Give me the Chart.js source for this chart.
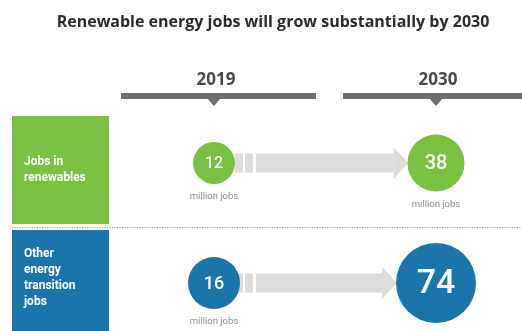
<!DOCTYPE html>
<html lang="en">
<head>
<meta charset="utf-8">
<title>Renewable energy jobs</title>
<script src="https://cdn.jsdelivr.net/npm/chart.js@4.4.0/dist/chart.umd.min.js"></script>
<style>
  html, body { margin: 0; padding: 0; background: #fff; }
  #graficoEmpregos { display: block; }
</style>
</head>
<body>
<canvas id="graficoEmpregos" width="522" height="331"></canvas>
<script>
// Dados do infográfico
const titulo = 'Renewable energy jobs will grow substantially by 2030';
const anos = ['2019', '2030'];
const categorias = ['Jobs in renewables', 'Other energy transition jobs'];
const empregosRenovaveis = [12, 38];
const empregosTransicao = [16, 74];
const unidade = 'million jobs';

// Estilo de cada linha (renováveis, outros)
const coresLinha = ['#7ac143', '#1b75aa'];
const raiosCirculo = [[21, 28.5], [26, 40]];
const fontesValor = [[16, 20], [18, 34]];
const faixasCaixa = [[116, 224], [230, 345]];
const centroTextoCaixa = [169, 277];

let graficoEmpregos = null;

// Quebra o texto em linhas que cabem na largura
function quebrarTexto(ctx, texto, largura) {
    const palavras = texto.split(' ');
    const linhas = [];
    let atual = '';
    palavras.forEach(p => {
        const teste = atual ? atual + ' ' + p : p;
        if (atual && ctx.measureText(teste).width > largura) {
            linhas.push(atual);
            atual = p;
        } else {
            atual = teste;
        }
    });
    if (atual) linhas.push(atual);
    return linhas;
}

// Desenha título, anos, caixas das categorias e setas
const pluginInfografico = {
    id: 'infografico',
    beforeDatasetsDraw(chart) {
        const ctx = chart.ctx;
        const xs = chart.scales.x;
        ctx.save();

        ctx.textAlign = 'center';
        ctx.textBaseline = 'alphabetic';
        ctx.fillStyle = '#2b2b2b';
        ctx.font = '700 16px "Open Sans"';
        ctx.fillText(titulo, 273, 27);

        // Anos com a barra e o triângulo
        anos.forEach((ano, i) => {
            const x = xs.getPixelForValue(i);
            ctx.fillStyle = '#4a4a4a';
            ctx.font = '700 17px "Open Sans"';
            ctx.fillText(ano, x + 2, 85);
            ctx.fillStyle = '#6e6e6e';
            ctx.fillRect(x - 93, 93, 195, 6);
            ctx.beginPath();
            ctx.moveTo(x - 7, 98);
            ctx.lineTo(x + 7, 98);
            ctx.lineTo(x, 106);
            ctx.closePath();
            ctx.fill();
        });

        // Caixas coloridas com o nome da categoria
        categorias.forEach((cat, linha) => {
            const [topo, base] = faixasCaixa[linha];
            ctx.fillStyle = coresLinha[linha];
            ctx.fillRect(12, topo, 97, base - topo);
            ctx.fillStyle = '#ffffff';
            ctx.font = '700 12px Roboto';
            ctx.textAlign = 'left';
            const linhas = quebrarTexto(ctx, cat, 66);
            const alturaLinha = 16;
            const y0 = centroTextoCaixa[linha] - (linhas.length - 1) * alturaLinha / 2 + 4;
            linhas.forEach((t, k) => ctx.fillText(t, 24, y0 + k * alturaLinha));
        });

        // Linha pontilhada entre as categorias
        ctx.strokeStyle = '#9a9a9a';
        ctx.lineWidth = 1;
        ctx.setLineDash([1, 1.5]);
        ctx.beginPath();
        ctx.moveTo(12, 227.5);
        ctx.lineTo(522, 227.5);
        ctx.stroke();
        ctx.setLineDash([]);

        // Setas cinzas ligando 2019 a 2030
        chart.data.datasets.forEach((ds, linha) => {
            const pts = chart.getDatasetMeta(linha).data;
            const a = pts[0], b = pts[1];
            const y = (a.y + b.y) / 2;
            const ponta = b.x - raiosCirculo[linha][1] + 1;
            ctx.fillStyle = '#dcdcdc';
            ctx.fillRect(a.x + 21, y - 9.5, 8, 19);
            ctx.fillRect(a.x + 31, y - 9.5, 8, 19);
            ctx.fillRect(a.x + 42, y - 9.5, ponta - 15 - (a.x + 42), 19);
            ctx.beginPath();
            ctx.moveTo(ponta - 15, y - 16);
            ctx.lineTo(ponta, y);
            ctx.lineTo(ponta - 15, y + 16);
            ctx.closePath();
            ctx.fill();
        });
        ctx.restore();
    },
    afterDatasetsDraw(chart) {
        const ctx = chart.ctx;
        ctx.save();
        ctx.textAlign = 'center';
        chart.data.datasets.forEach((ds, linha) => {
            const serie = linha === 0 ? empregosRenovaveis : empregosTransicao;
            chart.getDatasetMeta(linha).data.forEach((p, i) => {
                const r = raiosCirculo[linha][i];
                ctx.fillStyle = '#ffffff';
                ctx.font = '500 ' + fontesValor[linha][i] + 'px Roboto';
                ctx.textBaseline = 'middle';
                ctx.fillText(serie[i], p.x, p.y + 1);
                ctx.fillStyle = '#8a8a8a';
                ctx.font = '9.5px Roboto';
                ctx.textBaseline = 'alphabetic';
                ctx.fillText(unidade, p.x, p.y + r + 15);
            });
        });
        ctx.restore();
    }
};

// Função para criar o gráfico
function criarGrafico() {
    const ctx = document.getElementById('graficoEmpregos').getContext('2d');
    graficoEmpregos = new Chart(ctx, {
        type: 'scatter',
        data: {
            datasets: [empregosRenovaveis, empregosTransicao].map((serie, linha) => ({
                label: categorias[linha],
                data: serie.map((v, i) => ({ x: anos[i], y: categorias[linha] })),
                backgroundColor: coresLinha[linha],
                borderWidth: 0,
                pointRadius: c => raiosCirculo[linha][c.dataIndex],
                pointHoverRadius: c => raiosCirculo[linha][c.dataIndex],
                clip: false
            }))
        },
        options: {
            responsive: false,
            animation: false,
            events: [],
            layout: {
                padding: { left: 214, right: 86, top: 163, bottom: 48 }
            },
            scales: {
                x: { type: 'category', labels: anos, offset: false, display: false },
                y: { type: 'category', labels: categorias, offset: false, display: false }
            },
            plugins: {
                legend: { display: false },
                tooltip: { enabled: false }
            }
        },
        plugins: [pluginInfografico]
    });
}

criarGrafico();
</script>
</body>
</html>
